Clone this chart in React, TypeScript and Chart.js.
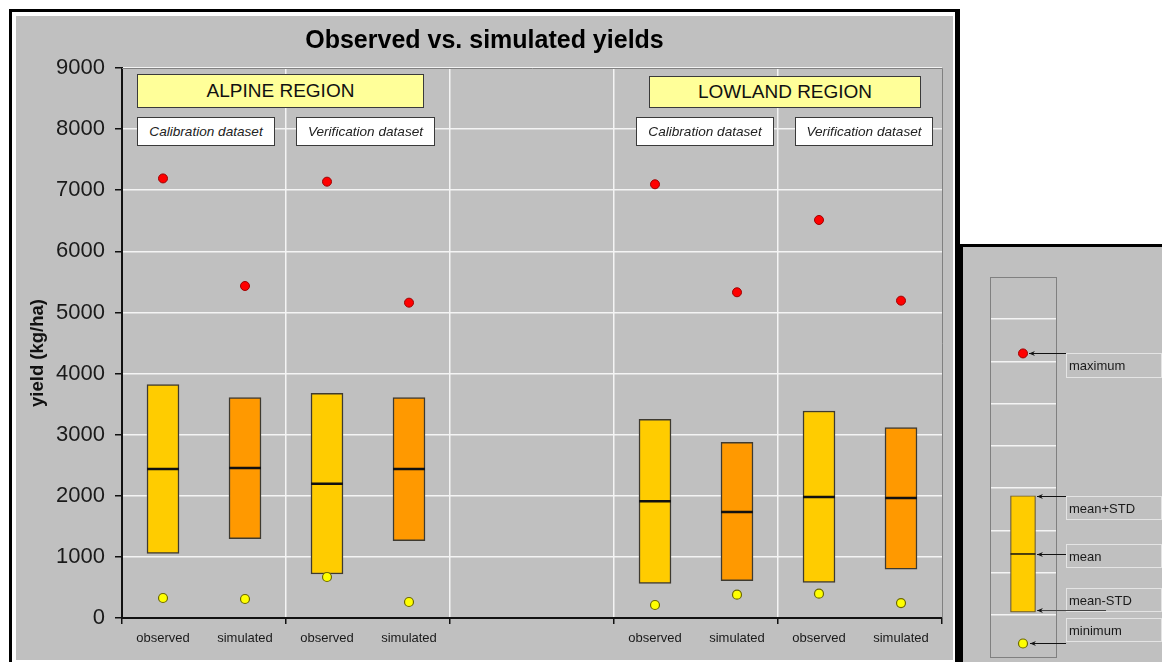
import React, { useEffect, useRef } from "react";
import { Chart, registerables } from "chart.js";

Chart.register(...registerables);

const FONT = "'Liberation Sans', Arial, Helvetica, sans-serif";

// ---- Main chart data ----
const categories = ["observed", "simulated", "observed", "simulated", "", "", "observed", "simulated", "observed", "simulated"];
const meanMinusStd = [1058, 1298, 720, 1265, null, null, 567, 611, 584, 797];
const meanValues = [2438, 2455, 2198, 2438, null, null, 1909, 1735, 1980, 1964];
const meanPlusStd = [3818, 3605, 3677, 3605, null, null, 3251, 2875, 3387, 3114];
const maxValues = [7193, 5433, 7140, 5160, null, null, 7097, 5330, 6513, 5193];
const minValues = [327, 311, 671, 262, null, null, 213, 382, 398, 245];
const yMin = 0;
const yMax = 9000;
const yStep = 1000;

const chartTitle = "Observed vs. simulated yields";
const yTitle = "yield (kg/ha)";
const regionLabels = ["ALPINE REGION", "LOWLAND REGION"];
const datasetLabels = ["Calibration dataset", "Verification dataset"];

// ---- Legend (key) data ----
const legendCategories = [""];
const legendLow = [1.06];
const legendMean = [2.44];
const legendHigh = [3.82];
const legendMax = [7.19];
const legendMin = [0.32];
const legendLabels = ["maximum", "mean+STD", "mean", "mean-STD", "minimum"];

const GRAY = "#C0C0C0";
const OBS_COLOR = "#FFCC00";
const SIM_COLOR = "#FF9900";
const GRID = "#F4F4F4";
const TRANSPARENT = "rgba(0,0,0,0)";

function barColor(label: string) {
  return label === "simulated" ? SIM_COLOR : OBS_COLOR;
}

function MainChart() {
  const ref = useRef<HTMLCanvasElement | null>(null);
  useEffect(() => {
    if (!ref.current) return;
    const framePlugin = {
      id: "frame",
      beforeDraw(chart: any) {
        const { ctx } = chart;
        ctx.save();
        ctx.fillStyle = GRAY;
        ctx.fillRect(0, 0, chart.width, chart.height);
        ctx.restore();
      },
      beforeDatasetsDraw(chart: any) {
        const { ctx, chartArea: a } = chart;
        ctx.save();
        ctx.strokeStyle = "#808080";
        ctx.lineWidth = 1;
        ctx.beginPath();
        ctx.moveTo(a.left, Math.round(a.top) + 0.5);
        ctx.lineTo(Math.round(a.right) + 0.5, Math.round(a.top) + 0.5);
        ctx.lineTo(Math.round(a.right) + 0.5, a.bottom);
        ctx.stroke();
        ctx.restore();
      },
      afterDraw(chart: any) {
        const { ctx } = chart;
        ctx.save();
        ctx.translate(22, 337);
        ctx.rotate(-Math.PI / 2);
        ctx.font = `bold 18.5px ${FONT}`;
        ctx.fillStyle = "#111";
        ctx.textAlign = "center";
        ctx.textBaseline = "middle";
        ctx.fillText(yTitle, 0, 0);
        ctx.restore();
      },
    };

    const chart = new Chart(ref.current, {
      type: "bar",
      data: {
        labels: categories,
        datasets: [
          {
            type: "line",
            label: "mean",
            data: meanValues,
            showLine: false,
            pointStyle: "line",
            pointRadius: 16,
            pointHoverRadius: 16,
            pointBorderWidth: 2.5,
            pointBorderColor: "#111",
            borderColor: "#111",
            order: 1,
          } as any,
          {
            type: "line",
            label: "maximum",
            data: maxValues,
            showLine: false,
            pointStyle: "circle",
            pointRadius: 4.5,
            pointBorderWidth: 1,
            pointBackgroundColor: "#FF0000",
            pointBorderColor: "#A00000",
            order: 1,
          } as any,
          {
            type: "line",
            label: "minimum",
            data: minValues,
            showLine: false,
            pointStyle: "circle",
            pointRadius: 4.5,
            pointBorderWidth: 1.2,
            pointBackgroundColor: "#FFFF00",
            pointBorderColor: "#6E6A00",
            order: 1,
          } as any,
          {
            type: "bar",
            label: "mean ± STD",
            data: categories.map((_, i) =>
              meanMinusStd[i] == null ? null : [meanMinusStd[i], meanPlusStd[i]]
            ),
            backgroundColor: categories.map(barColor),
            borderColor: "#3E3A30",
            borderWidth: 1.5,
            borderSkipped: false,
            barThickness: 32,
            order: 2,
          } as any,
        ],
      },
      options: {
        animation: false,
        responsive: false,
        maintainAspectRatio: false,
        layout: { autoPadding: false, padding: { left: 0, right: 0, top: 0, bottom: 0 } },
        plugins: {
          legend: { display: false },
          tooltip: { enabled: false },
          title: {
            display: true,
            text: chartTitle,
            color: "#000",
            font: { family: FONT, size: 25, weight: "bold" },
            padding: { top: 10, bottom: 12 },
          },
        },
        scales: {
          x: {
            type: "category",
            offset: true,
            grid: {
              offset: true,
              lineWidth: 1.5,
              color: (ctx: any) => {
                const i = ctx.index;
                if (i === undefined || i === 0) return TRANSPARENT;
                return i % 2 === 0 ? GRID : TRANSPARENT;
              },
              tickColor: (ctx: any) => {
                const i = ctx.index;
                if (i === undefined) return "#111";
                return i % 2 === 0 ? "#111" : TRANSPARENT;
              },
              tickLength: 6,
              tickWidth: 1.5,
            },
            border: { color: "#111", width: 2 },
            ticks: {
              font: { family: FONT, size: 13 },
              color: "#1a1a1a",
              padding: 7,
              autoSkip: false,
              maxRotation: 0,
            },
            afterFit: (s: any) => {
              s.height = 42;
            },
          },
          y: {
            min: yMin,
            max: yMax,
            ticks: {
              stepSize: yStep,
              font: { family: FONT, size: 22 },
              color: "#1a1a1a",
              padding: 10,
              callback: (v: any) => String(v),
            },
            grid: {
              color: GRID,
              lineWidth: 1.5,
              tickColor: "#111",
              tickLength: 7,
              tickWidth: 1.5,
            },
            border: { color: "#111", width: 2 },
            afterFit: (s: any) => {
              s.width = 106;
            },
          },
          yRight: {
            type: "linear",
            position: "right",
            display: true,
            min: yMin,
            max: yMax,
            ticks: { display: false },
            grid: { display: false, drawOnChartArea: false },
            border: { display: false },
            afterFit: (s: any) => {
              s.width = 11;
            },
          },
        },
      } as any,
      plugins: [framePlugin],
    });
    return () => chart.destroy();
  }, []);
  return <canvas ref={ref} width={937} height={644} style={{ display: "block", width: 937, height: 644 }} />;
}

function LegendChart() {
  const ref = useRef<HTMLCanvasElement | null>(null);
  useEffect(() => {
    if (!ref.current) return;
    const keyPlugin = {
      id: "keyPlugin",
      beforeDraw(chart: any) {
        const { ctx } = chart;
        ctx.save();
        ctx.fillStyle = GRAY;
        ctx.fillRect(0, 0, chart.width, chart.height);
        ctx.restore();
      },
      beforeDatasetsDraw(chart: any) {
        const { ctx, chartArea: a } = chart;
        ctx.save();
        ctx.strokeStyle = "#808080";
        ctx.lineWidth = 1;
        ctx.strokeRect(Math.round(a.left) + 0.5, Math.round(a.top) + 0.5, Math.round(a.right - a.left), Math.round(a.bottom - a.top));
        ctx.restore();
      },
      afterDraw(chart: any) {
        const { ctx } = chart;
        const y = chart.scales.y;
        const x = chart.scales.x;
        const cx = x.getPixelForValue(0);
        const values = [legendMax[0], legendHigh[0], legendMean[0], legendLow[0], legendMin[0]];
        const tipDx = [6, 14, 14, 14, 7];
        const startX = [103, 103, 103, 143, 103];
        const arrowDy = [0, 0, 0, -2, 0];
        const boxDy = [0, 0, -10, -24, -25];
        const boxH = [24, 23, 23, 23, 23];
        const lineColor = ["#111", "#111", "#111", "#444", "#111"];
        ctx.save();
        legendLabels.forEach((label, i) => {
          const py = Math.round(y.getPixelForValue(values[i]) + arrowDy[i]) + 0.5;
          const tip = cx + tipDx[i];
          const by = Math.round(y.getPixelForValue(values[i]) + boxDy[i]) + 0.5;
          ctx.strokeStyle = "#E4E4E4";
          ctx.lineWidth = 1;
          ctx.strokeRect(103.5, by, 95, boxH[i]);
          ctx.fillStyle = "#1a1a1a";
          ctx.font = `13px ${FONT}`;
          ctx.textAlign = "left";
          ctx.textBaseline = "middle";
          ctx.fillText(label, 106, by + boxH[i] / 2 + 1);
          ctx.strokeStyle = lineColor[i];
          ctx.beginPath();
          ctx.moveTo(startX[i], py);
          ctx.lineTo(tip, py);
          ctx.stroke();
          ctx.fillStyle = "#111";
          ctx.beginPath();
          ctx.moveTo(tip, py);
          ctx.lineTo(tip + 6, py - 2.5);
          ctx.lineTo(tip + 4, py);
          ctx.lineTo(tip + 6, py + 2.5);
          ctx.closePath();
          ctx.fill();
        });
        ctx.restore();
      },
    };

    const chart = new Chart(ref.current, {
      type: "bar",
      data: {
        labels: legendCategories,
        datasets: [
          {
            type: "line",
            data: legendMean,
            showLine: false,
            pointStyle: "line",
            pointRadius: 12.5,
            pointBorderWidth: 1.5,
            pointBorderColor: "#111",
            borderColor: "#111",
            order: 1,
          } as any,
          {
            type: "line",
            data: legendMax,
            showLine: false,
            pointRadius: 4.5,
            pointBorderWidth: 1,
            pointBackgroundColor: "#FF0000",
            pointBorderColor: "#A00000",
            order: 1,
          } as any,
          {
            type: "line",
            data: legendMin,
            showLine: false,
            pointRadius: 4.5,
            pointBorderWidth: 1.2,
            pointBackgroundColor: "#FFFF00",
            pointBorderColor: "#6E6A00",
            order: 1,
          } as any,
          {
            type: "bar",
            data: legendCategories.map((_, i) => [legendLow[i], legendHigh[i]]),
            backgroundColor: OBS_COLOR,
            borderColor: "#6A5A30",
            borderWidth: 1.2,
            borderSkipped: false,
            barThickness: 25,
            order: 2,
          } as any,
        ],
      },
      options: {
        animation: false,
        responsive: false,
        maintainAspectRatio: false,
        layout: { padding: { left: 27, right: 106, top: 30, bottom: 6 } },
        plugins: { legend: { display: false }, tooltip: { enabled: false }, title: { display: false } },
        scales: {
          x: { type: "category", display: false, offset: true },
          y: {
            min: 0,
            max: 9,
            display: true,
            ticks: { display: false, stepSize: 1 },
            grid: {
              drawTicks: false,
              lineWidth: 1.5,
              color: (ctx: any) =>
                ctx.tick && (ctx.tick.value === 0 || ctx.tick.value === 9) ? TRANSPARENT : GRID,
            },
            border: { display: false },
            afterFit: (s: any) => {
              s.width = 0;
            },
          },
        },
      } as any,
      plugins: [keyPlugin],
    });
    return () => chart.destroy();
  }, []);
  return <canvas ref={ref} width={199} height={424} style={{ display: "block", width: 199, height: 424 }} />;
}

const regionBox: React.CSSProperties = {
  position: "absolute",
  boxSizing: "border-box",
  background: "#FFFF99",
  border: "1px solid #3a3a3a",
  display: "flex",
  alignItems: "center",
  justifyContent: "center",
  fontFamily: FONT,
  fontSize: 19,
  color: "#111",
  whiteSpace: "nowrap",
};

const dataBox: React.CSSProperties = {
  position: "absolute",
  boxSizing: "border-box",
  background: "#FFFFFF",
  border: "1px solid #3a3a3a",
  display: "flex",
  alignItems: "center",
  justifyContent: "center",
  fontFamily: FONT,
  fontSize: 13.6,
  fontStyle: "italic",
  color: "#222",
  whiteSpace: "nowrap",
};

export default function App() {
  return (
    <div
      style={{
        position: "absolute",
        left: 0,
        top: 0,
        width: 1162,
        height: 662,
        overflow: "hidden",
        background: "#fff",
      }}
    >
      <div
        style={{
          position: "absolute",
          left: 9,
          top: 9,
          width: 951,
          height: 720,
          boxSizing: "border-box",
          borderTop: "3px solid #000",
          borderLeft: "3px solid #000",
          borderRight: "5px solid #000",
          borderBottom: "3px solid #000",
          paddingTop: 4,
          paddingLeft: 4,
          paddingRight: 2,
          background: "#fff",
        }}
      >
        <MainChart />
      </div>

      <div style={{ ...regionBox, left: 137, top: 74, width: 287, height: 34 }}>{regionLabels[0]}</div>
      <div style={{ ...regionBox, left: 649, top: 76, width: 272, height: 32 }}>{regionLabels[1]}</div>

      <div style={{ ...dataBox, left: 137, top: 117, width: 138, height: 29 }}>{datasetLabels[0]}</div>
      <div style={{ ...dataBox, left: 296, top: 117, width: 139, height: 29 }}>{datasetLabels[1]}</div>
      <div style={{ ...dataBox, left: 636, top: 117, width: 138, height: 29 }}>{datasetLabels[0]}</div>
      <div style={{ ...dataBox, left: 795, top: 117, width: 138, height: 29 }}>{datasetLabels[1]}</div>

      <div
        style={{
          position: "absolute",
          left: 960,
          top: 244,
          width: 210,
          height: 440,
          boxSizing: "border-box",
          borderLeft: "3px solid #000",
          borderTop: "3px solid #000",
          background: GRAY,
        }}
      >
        <LegendChart />
      </div>
    </div>
  );
}
